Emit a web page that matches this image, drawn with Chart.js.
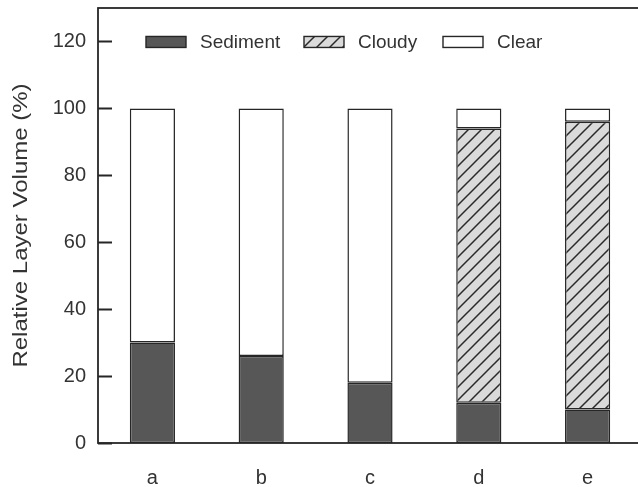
<!DOCTYPE html>
<html>
<head>
<meta charset="utf-8">
<script src="https://cdn.jsdelivr.net/npm/chart.js@4.4.1/dist/chart.umd.min.js"></script>
<style>
  html, body { margin: 0; padding: 0; background: #fff; overflow: hidden; }
  #wrap { width: 638px; height: 487px; overflow: hidden; }
</style>
</head>
<body>
<div id="wrap"><canvas id="layerChart" width="660" height="487"></canvas></div>
<script>
// Data
const categories = ['a', 'b', 'c', 'd', 'e'];
const sediment = [30, 26, 18, 12, 10];
const cloudy = [0, 0, 0, 82, 86];
const clear = [70, 74, 82, 6, 4];
const yTicks = [0, 20, 40, 60, 80, 100, 120];
const yTitle = 'Relative Layer Volume (%)';

const FONT = "'Liberation Sans', Arial, sans-serif";
const INK = '#262626';

// Hatch pattern for the cloudy layer
function makeHatch() {
    const c = document.createElement('canvas');
    c.width = 13;
    c.height = 13;
    const g = c.getContext('2d');
    g.fillStyle = '#dadada';
    g.fillRect(0, 0, 13, 13);
    g.strokeStyle = '#2a2a2a';
    g.lineWidth = 1.5;
    g.beginPath();
    g.moveTo(-2, 15); g.lineTo(15, -2);
    g.moveTo(-2, 2); g.lineTo(2, -2);
    g.moveTo(11, 15); g.lineTo(15, 11);
    g.stroke();
    return g.createPattern(c, 'repeat');
}
const hatch = makeHatch();

// Frame, inward ticks, axis title and in-plot legend
const framePlugin = {
    id: 'frame',
    afterDraw(chart) {
        const ctx = chart.ctx;
        const a = chart.chartArea;
        const y = chart.scales.y;
        ctx.save();
        ctx.strokeStyle = INK;
        ctx.lineWidth = 1.8;
        ctx.strokeRect(a.left, a.top, a.right - a.left, a.bottom - a.top);
        ctx.beginPath();
        yTicks.forEach(v => {
            const py = Math.round(y.getPixelForValue(v)) + 0.5;
            ctx.moveTo(a.left, py);
            ctx.lineTo(a.left + 14, py);
        });
        ctx.stroke();

        // y axis title (the scan is stretched along the axis)
        ctx.save();
        ctx.translate(21, (a.top + a.bottom) / 2);
        ctx.rotate(-Math.PI / 2);
        ctx.scale(1.2, 1);
        ctx.font = '20px ' + FONT;
        ctx.fillStyle = '#333';
        ctx.textAlign = 'center';
        ctx.textBaseline = 'middle';
        ctx.fillText(yTitle, 0, 0);
        ctx.restore();

        // legend
        const ly = y.getPixelForValue(120);
        const items = [
            { label: 'Sediment', x: 146, fill: '#575757' },
            { label: 'Cloudy', x: 304, fill: hatch },
            { label: 'Clear', x: 443, fill: '#ffffff' }
        ];
        ctx.font = '19px ' + FONT;
        ctx.textBaseline = 'middle';
        items.forEach(it => {
            ctx.fillStyle = it.fill;
            ctx.fillRect(it.x, ly - 5, 40, 11);
            ctx.lineWidth = 1.4;
            ctx.strokeStyle = INK;
            ctx.strokeRect(it.x, ly - 5, 40, 11);
            ctx.fillStyle = '#333';
            ctx.fillText(it.label, it.x + 54, ly + 1);
        });
        ctx.restore();
    }
};

const barOpts = { borderColor: INK, borderWidth: 1.5, borderSkipped: false, barPercentage: 0.415, categoryPercentage: 1 };

new Chart(document.getElementById('layerChart'), {
    type: 'bar',
    data: {
        labels: categories,
        datasets: [
            Object.assign({ label: 'Sediment', data: sediment, backgroundColor: '#575757' }, barOpts),
            Object.assign({ label: 'Cloudy', data: cloudy, backgroundColor: hatch }, barOpts),
            Object.assign({ label: 'Clear', data: clear, backgroundColor: '#ffffff' }, barOpts)
        ]
    },
    options: {
        responsive: false,
        animation: false,
        layout: { padding: { top: 8, right: 18, left: 0, bottom: 0 } },
        plugins: {
            legend: { display: false },
            tooltip: { enabled: false }
        },
        scales: {
            x: {
                stacked: true,
                grid: { display: false, drawTicks: false },
                border: { display: false },
                ticks: { color: '#333', padding: 23, font: { size: 20, family: FONT } },
                afterFit(scale) { scale.height = 44; scale.paddingLeft = 0; scale.paddingRight = 0; }
            },
            y: {
                stacked: true,
                min: 0,
                max: 130,
                afterBuildTicks(scale) { scale.ticks = yTicks.map(v => ({ value: v })); },
                grid: { display: false, drawTicks: false },
                border: { display: false },
                ticks: { color: '#333', padding: 12, font: { size: 20, family: FONT } },
                afterFit(scale) { scale.width = 98; scale.paddingTop = 0; scale.paddingBottom = 0; }
            }
        }
    },
    plugins: [framePlugin]
});
</script>
</body>
</html>
